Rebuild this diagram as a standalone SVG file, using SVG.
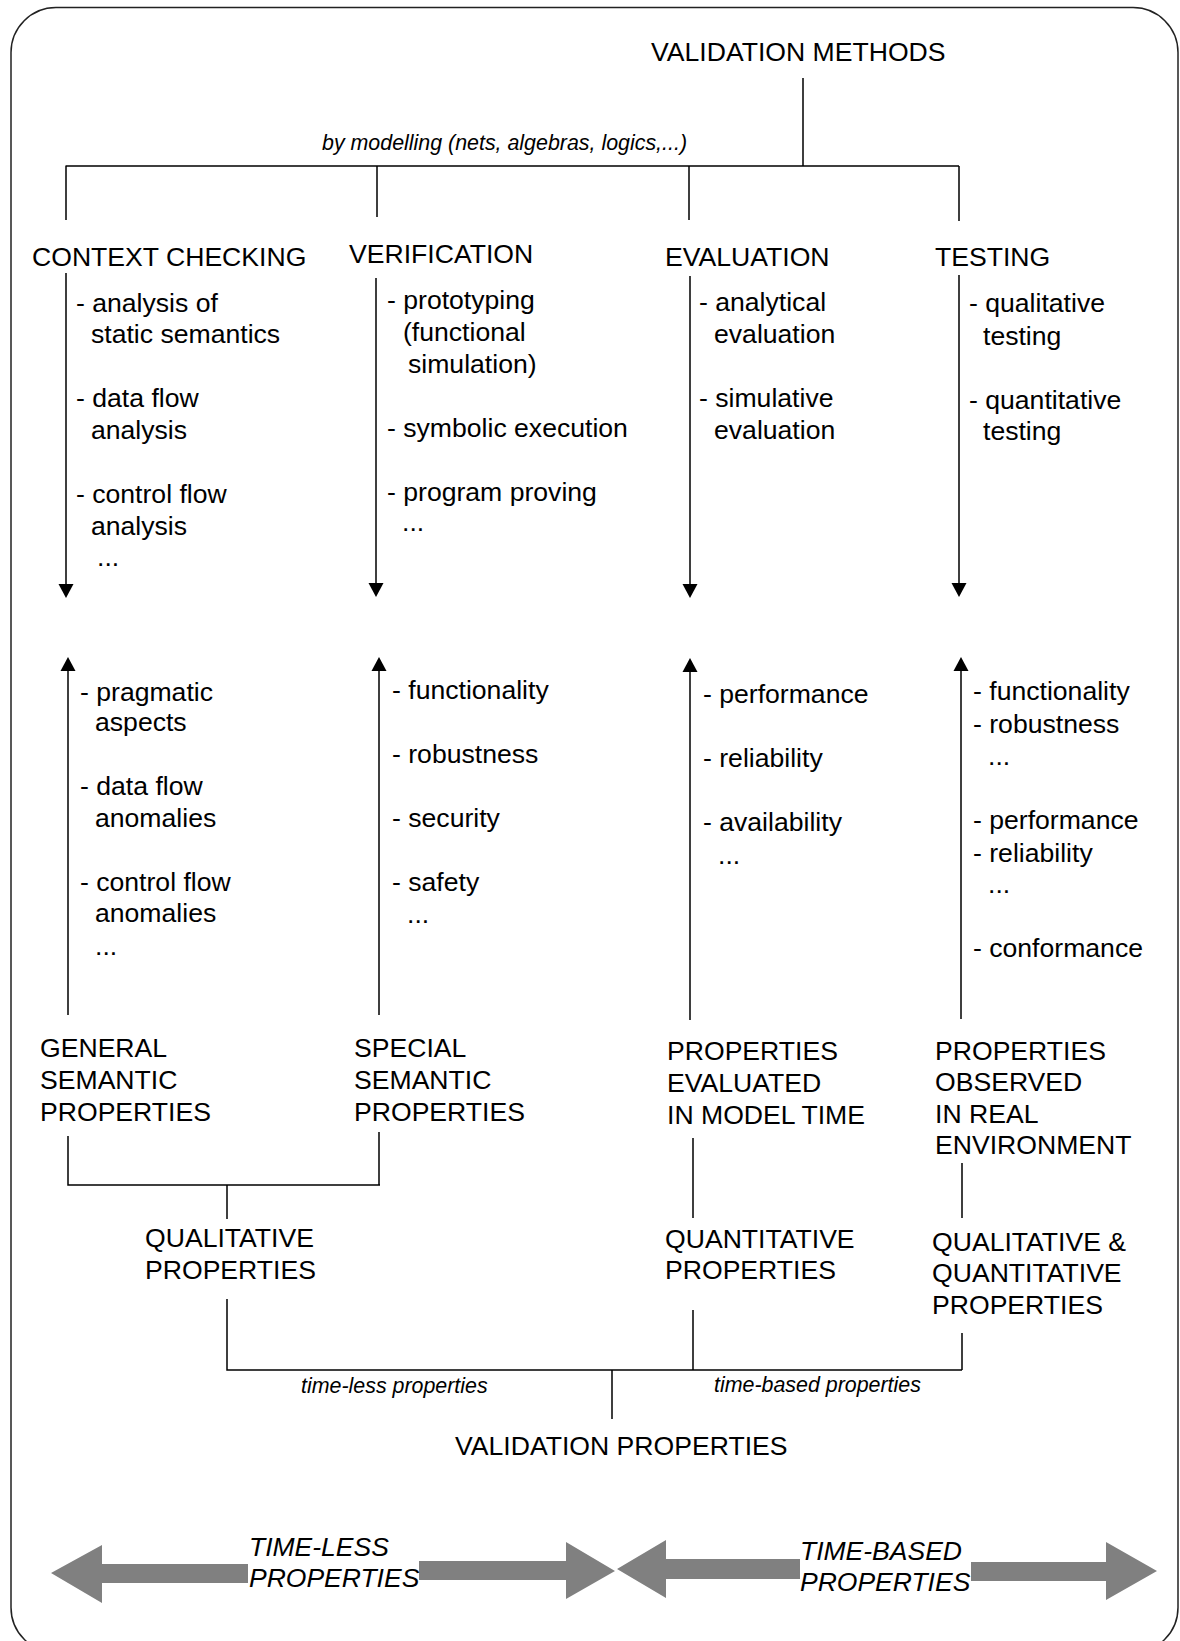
<svg xmlns="http://www.w3.org/2000/svg" width="1180" height="1641" viewBox="0 0 1180 1641">
<style>
text{font-family:"Liberation Sans",Arial,sans-serif;font-size:26.6px;fill:#000}
.it{font-style:italic;font-size:21.4px}
.big{font-style:italic;font-size:26.5px}
.ln{stroke:#000;stroke-width:1.5;fill:none}
.ah{fill:#000}
.ga{fill:#808080}
</style>
<rect x="11" y="7.5" width="1167" height="1645" rx="45" ry="45" fill="#fff" stroke="#222" stroke-width="1.5"/>
<g id="connectors">
<path class="ln" d="M803 78V166M65.5 166H959M66 166V220M377 166V217M689 166V220M959 166V221"/>
<path class="ln" d="M66 273V590M376 278V590M690 276V590M959 275V590"/>
<polygon class="ah" points="58.5,584 73.5,584 66,598"/>
<polygon class="ah" points="368.5,583 383.5,583 376,597"/>
<polygon class="ah" points="682.5,584 697.5,584 690,598"/>
<polygon class="ah" points="951.5,583 966.5,583 959,597"/>
<path class="ln" d="M68 665V1015M379 665V1015M690 665V1020M961 665V1019"/>
<polygon class="ah" points="60.5,671 75.5,671 68,657"/>
<polygon class="ah" points="371.5,671 386.5,671 379,657"/>
<polygon class="ah" points="682.5,672 697.5,672 690,658"/>
<polygon class="ah" points="953.5,671 968.5,671 961,657"/>
<path class="ln" d="M68 1136V1185H380M379 1132V1185M227 1185V1219M227 1299V1370H962M693 1138V1218M693 1310V1370M962 1163V1218M962 1333V1370M612 1370V1419"/>
</g>
<g id="validation-methods"><text x="651" y="61">VALIDATION METHODS</text></g>
<g id="label-modelling"><text class="it" x="322" y="150">by modelling (nets, algebras, logics,...)</text></g>
<g id="context-checking">
<text x="32" y="266">CONTEXT CHECKING</text>
<text x="76" y="312">- analysis of</text>
<text x="91" y="343">static semantics</text>
<text x="76" y="407">- data flow</text>
<text x="91" y="439">analysis</text>
<text x="76" y="503">- control flow</text>
<text x="91" y="535">analysis</text>
<text x="97" y="566">...</text>
</g>
<g id="verification">
<text x="349" y="263">VERIFICATION</text>
<text x="387" y="309">- prototyping</text>
<text x="403" y="341">(functional</text>
<text x="408" y="373">simulation)</text>
<text x="387" y="437">- symbolic execution</text>
<text x="387" y="501">- program proving</text>
<text x="402" y="531">...</text>
</g>
<g id="evaluation">
<text x="665" y="266">EVALUATION</text>
<text x="699" y="311">- analytical</text>
<text x="714" y="343">evaluation</text>
<text x="699" y="407">- simulative</text>
<text x="714" y="439">evaluation</text>
</g>
<g id="testing">
<text x="935" y="266">TESTING</text>
<text x="969" y="312">- qualitative</text>
<text x="983" y="345">testing</text>
<text x="969" y="409">- quantitative</text>
<text x="983" y="440">testing</text>
</g>
<g id="general-props-list">
<text x="80" y="701">- pragmatic</text>
<text x="95" y="731">aspects</text>
<text x="80" y="795">- data flow</text>
<text x="95" y="827">anomalies</text>
<text x="80" y="891">- control flow</text>
<text x="95" y="922">anomalies</text>
<text x="95" y="955">...</text>
</g>
<g id="special-props-list">
<text x="392" y="699">- functionality</text>
<text x="392" y="763">- robustness</text>
<text x="392" y="827">- security</text>
<text x="392" y="891">- safety</text>
<text x="407" y="923">...</text>
</g>
<g id="model-time-list">
<text x="703" y="703">- performance</text>
<text x="703" y="767">- reliability</text>
<text x="703" y="831">- availability</text>
<text x="718" y="864">...</text>
</g>
<g id="real-env-list">
<text x="973" y="700">- functionality</text>
<text x="973" y="733">- robustness</text>
<text x="988" y="765">...</text>
<text x="973" y="829">- performance</text>
<text x="973" y="862">- reliability</text>
<text x="988" y="893">...</text>
<text x="973" y="957">- conformance</text>
</g>
<g id="general-semantic">
<text x="40" y="1057">GENERAL</text>
<text x="40" y="1089">SEMANTIC</text>
<text x="40" y="1121">PROPERTIES</text>
</g>
<g id="special-semantic">
<text x="354" y="1057">SPECIAL</text>
<text x="354" y="1089">SEMANTIC</text>
<text x="354" y="1121">PROPERTIES</text>
</g>
<g id="model-time">
<text x="667" y="1060">PROPERTIES</text>
<text x="667" y="1092">EVALUATED</text>
<text x="667" y="1124">IN MODEL TIME</text>
</g>
<g id="real-environment">
<text x="935" y="1060">PROPERTIES</text>
<text x="935" y="1091">OBSERVED</text>
<text x="935" y="1123">IN REAL</text>
<text x="935" y="1154">ENVIRONMENT</text>
</g>
<g id="qualitative">
<text x="145" y="1247">QUALITATIVE</text>
<text x="145" y="1279">PROPERTIES</text>
</g>
<g id="quantitative">
<text x="665" y="1248">QUANTITATIVE</text>
<text x="665" y="1279">PROPERTIES</text>
</g>
<g id="qual-quant">
<text x="932" y="1251">QUALITATIVE &amp;</text>
<text x="932" y="1282">QUANTITATIVE</text>
<text x="932" y="1314">PROPERTIES</text>
</g>
<g id="label-timeless"><text class="it" x="301" y="1393">time-less properties</text></g>
<g id="label-timebased"><text class="it" x="714" y="1392">time-based properties</text></g>
<g id="validation-properties"><text x="455" y="1455">VALIDATION PROPERTIES</text></g>
<g id="timeless-arrow">
<polygon class="ga" points="51,1573 102,1545 102,1564 248,1564 248,1583 102,1583 102,1603"/>
<polygon class="ga" points="419,1561 566,1561 566,1542 615,1571 566,1599 566,1580 419,1580"/>
<text class="big" x="249" y="1556">TIME-LESS</text>
<text class="big" x="249" y="1587">PROPERTIES</text>
</g>
<g id="timebased-arrow">
<polygon class="ga" points="617,1569 666,1540 666,1559 800,1559 800,1579 666,1579 666,1598"/>
<polygon class="ga" points="971,1562 1106,1562 1106,1542 1157,1571 1106,1600 1106,1581 971,1581"/>
<text class="big" x="800" y="1560">TIME-BASED</text>
<text class="big" x="800" y="1591">PROPERTIES</text>
</g>
</svg>
